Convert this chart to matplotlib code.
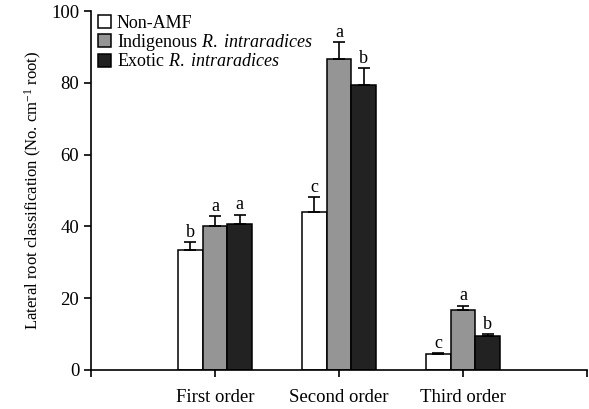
import numpy as np
import matplotlib.pyplot as plt

plt.rcParams['font.family'] = 'Liberation Serif'
plt.rcParams['mathtext.fontset'] = 'custom'
plt.rcParams['mathtext.rm'] = 'Liberation Serif'
plt.rcParams['mathtext.it'] = 'Liberation Serif:italic'

categories = ['First order', 'Second order', 'Third order']
series_names = ['Non-AMF', 'Indigenous $\\mathit{R.\\ intraradices}$',
                'Exotic $\\mathit{R.\\ intraradices}$']
non_amf = [33.4, 44.1, 4.4]
non_amf_err = [2.2, 4.0, 0.3]
indigenous = [40.2, 86.6, 16.7]
indigenous_err = [2.7, 4.7, 1.2]
exotic = [40.7, 79.4, 9.5]
exotic_err = [2.6, 4.6, 0.5]
letters_non = ['b', 'c', 'c']
letters_ind = ['a', 'a', 'a']
letters_exo = ['a', 'b', 'b']

fig = plt.figure(figsize=(5.89, 4.09), dpi=100)
ax = fig.add_axes([0.1545, 0.0954, 0.842, 0.8776])

x = np.arange(1, len(categories) + 1)
w = 0.2
series = [
    (non_amf, non_amf_err, letters_non, 'white'),
    (indigenous, indigenous_err, letters_ind, '#959595'),
    (exotic, exotic_err, letters_exo, '#222222'),
]
for i, (vals, errs, lets, col) in enumerate(series):
    pos = x + (i - 1) * w
    ax.bar(pos, vals, width=w, color=col, edgecolor='black', linewidth=1.1,
           label=series_names[i], zorder=2)
    ax.errorbar(pos, vals, yerr=[np.zeros(len(vals)), errs], fmt='none',
                ecolor='black', elinewidth=1.2, capsize=4.5, capthick=1.2, zorder=3)
    for p, v, e, t in zip(pos, vals, errs, lets):
        ax.annotate(t, (p, v + e), xytext=(0, 1), textcoords='offset points',
                    ha='center', va='bottom', fontsize=13)

ax.set_xlim(0, 4)
ax.set_ylim(0, 100)
ax.set_xticks([0, 1, 2, 3, 4])
ax.set_xticklabels([''] + categories + [''])
ax.set_yticks([0, 20, 40, 60, 80, 100])
ax.spines['top'].set_visible(False)
ax.spines['right'].set_visible(False)
ax.spines['left'].set_linewidth(1.2)
ax.spines['bottom'].set_linewidth(1.2)
ax.spines['left'].set_bounds(0, 100)
ax.tick_params(axis='both', direction='out', length=5, width=1.2, labelsize=13.5)
ax.tick_params(axis='x', pad=9)
ax.set_ylabel('Lateral root classification (No. cm$^{-1}$ root)', fontsize=12, labelpad=5)

ax.legend(loc='upper left', bbox_to_anchor=(-0.012, 1.025), frameon=False, fontsize=13,
          handlelength=0.75, handleheight=0.75, handletextpad=0.3, labelspacing=0.02,
          borderaxespad=0.3)

fig.savefig('out.png', dpi=100)
